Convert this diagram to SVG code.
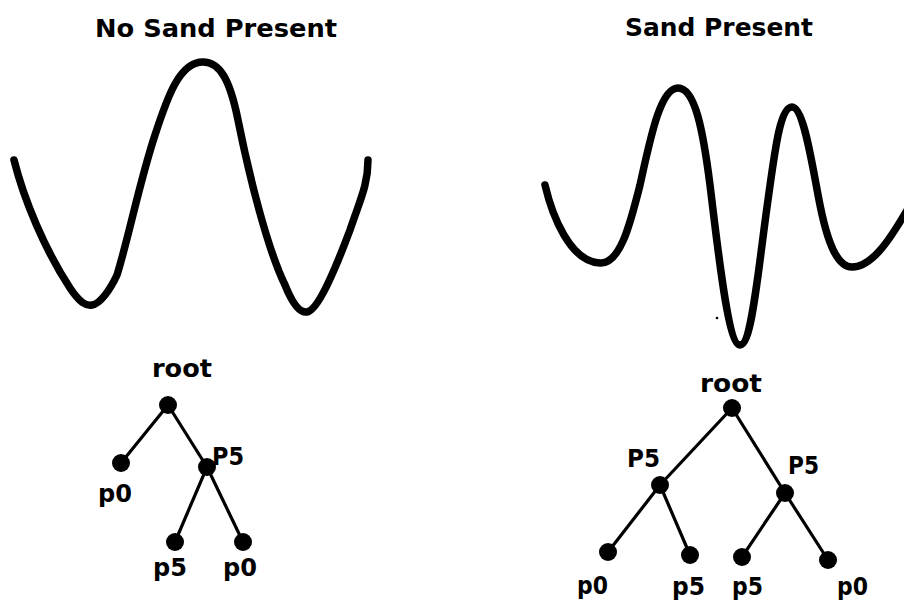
<svg xmlns="http://www.w3.org/2000/svg" width="904" height="602" viewBox="0 0 904 602">
<style>
.t{font-family:"DejaVu Sans","Liberation Sans",Arial,sans-serif;font-weight:bold;font-size:25px;fill:#000}
.w{fill:none;stroke:#000;stroke-width:7.5;stroke-linecap:round;stroke-linejoin:round}
.e{stroke:#000;stroke-width:3.2;stroke-linecap:round}
.n{fill:#000}
</style>
<rect width="904" height="602" fill="#fff"/>
<g id="titles">
<text class="t" x="95" y="37" textLength="242" lengthAdjust="spacingAndGlyphs">No Sand Present</text>
<text class="t" x="625" y="36" textLength="188" lengthAdjust="spacingAndGlyphs">Sand Present</text>
</g>
<g id="waves">
<path id="wave-left" class="w" d="M14,160 C24,200 45,250 70,288 C80,303 86,306 92,305 C100,304 110,290 117,275 C128,240 140,180 155,135 C168,95 180,62 203,62 C220,62 230,80 238,120 C250,180 268,250 285,285 C293,305 300,313 307,312 C318,310 335,270 350,230 C360,200 368,185 368,160"/>
<path id="wave-right" class="w" d="M545,185 C552,215 570,262 600,263 C620,264 630,225 640,185 C650,140 660,88 678,88 C695,88 703,130 710,185 C718,250 728,345 740,345 C752,345 758,270 768,200 C775,150 780,107 792,107 C804,107 812,165 820,205 C828,245 838,267 852,267 C872,267 890,240 910,205"/>
<circle cx="717" cy="318" r="1.3" fill="#000"/>
</g>
<g id="connectors">
<line class="e" x1="168" y1="405" x2="121" y2="463"/>
<line class="e" x1="168" y1="405" x2="207" y2="467"/>
<line class="e" x1="207" y1="467" x2="175" y2="542"/>
<line class="e" x1="207" y1="467" x2="243" y2="542"/>
<line class="e" x1="732" y1="408" x2="660" y2="485"/>
<line class="e" x1="732" y1="408" x2="785" y2="493"/>
<line class="e" x1="660" y1="485" x2="608" y2="552"/>
<line class="e" x1="660" y1="485" x2="690" y2="555"/>
<line class="e" x1="785" y1="493" x2="742" y2="557"/>
<line class="e" x1="785" y1="493" x2="828" y2="560"/>
</g>
<g id="left-root"><circle class="n" cx="168" cy="405" r="9"/><text class="t" x="152" y="377" textLength="60" lengthAdjust="spacingAndGlyphs">root</text></g>
<g id="left-p0"><circle class="n" cx="121" cy="463" r="9"/><text class="t" x="98" y="502" textLength="34" lengthAdjust="spacingAndGlyphs">p0</text></g>
<g id="left-p5"><circle class="n" cx="207" cy="467" r="9"/><text class="t" x="212" y="465" textLength="32" lengthAdjust="spacingAndGlyphs">P5</text></g>
<g id="left-p5-p5"><circle class="n" cx="175" cy="542" r="9"/><text class="t" x="153" y="576" textLength="34" lengthAdjust="spacingAndGlyphs">p5</text></g>
<g id="left-p5-p0"><circle class="n" cx="243" cy="542" r="9"/><text class="t" x="223" y="576" textLength="34" lengthAdjust="spacingAndGlyphs">p0</text></g>
<g id="right-root"><circle class="n" cx="732" cy="408" r="9"/><text class="t" x="700" y="392" textLength="62" lengthAdjust="spacingAndGlyphs">root</text></g>
<g id="right-p5-left"><circle class="n" cx="660" cy="485" r="9"/><text class="t" x="627" y="467" textLength="33" lengthAdjust="spacingAndGlyphs">P5</text></g>
<g id="right-p5-right"><circle class="n" cx="785" cy="493" r="9"/><text class="t" x="788" y="474" textLength="31" lengthAdjust="spacingAndGlyphs">P5</text></g>
<g id="right-l1"><circle class="n" cx="608" cy="552" r="9"/><text class="t" x="577" y="594" textLength="31" lengthAdjust="spacingAndGlyphs">p0</text></g>
<g id="right-l2"><circle class="n" cx="690" cy="555" r="9"/><text class="t" x="672" y="595" textLength="33" lengthAdjust="spacingAndGlyphs">p5</text></g>
<g id="right-l3"><circle class="n" cx="742" cy="557" r="9"/><text class="t" x="732" y="595" textLength="31" lengthAdjust="spacingAndGlyphs">p5</text></g>
<g id="right-l4"><circle class="n" cx="828" cy="560" r="9"/><text class="t" x="837" y="595" textLength="31" lengthAdjust="spacingAndGlyphs">p0</text></g>
</svg>
